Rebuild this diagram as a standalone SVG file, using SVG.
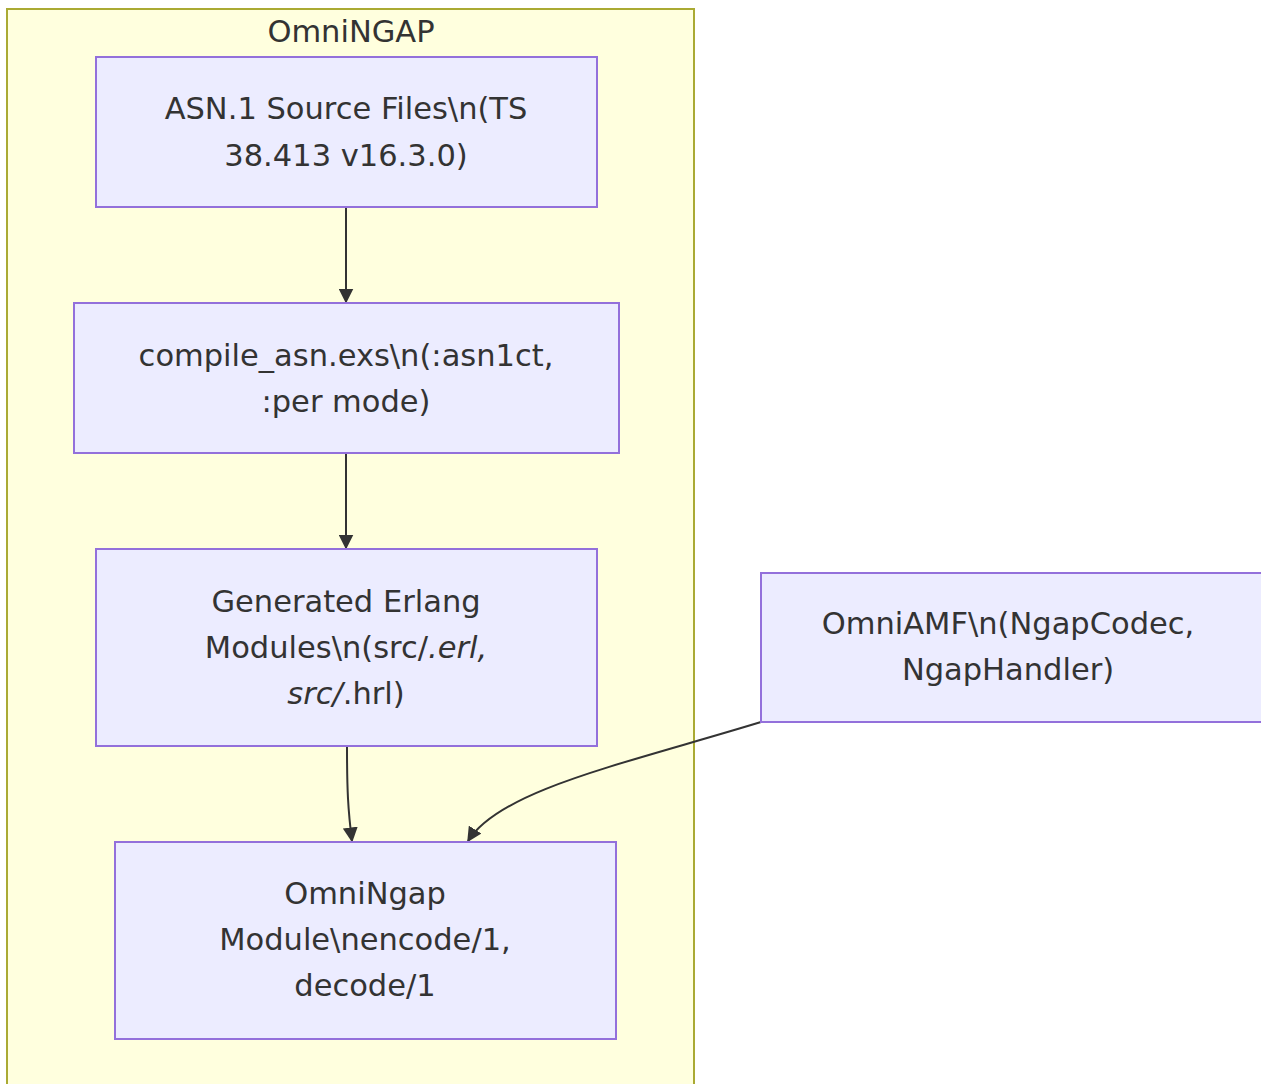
<svg xmlns="http://www.w3.org/2000/svg" width="1261" height="1084" viewBox="0 0 1261 1084">
<defs>
<style>
.cl{fill:#ffffde;stroke:#aaaa33;stroke-width:2}
.nd{fill:#ececff;stroke:#9370db;stroke-width:2}
.t{font-family:"DejaVu Sans",Verdana,sans-serif;font-size:30.5px;fill:#333;text-anchor:middle}
.e{fill:none;stroke:#333;stroke-width:2}
</style>
<marker id="ah" viewBox="0 0 10 10" refX="9" refY="5" markerWidth="15" markerHeight="15" markerUnits="userSpaceOnUse" orient="auto"><path d="M0,0L10,5L0,10z" fill="#333"/></marker>
</defs>
<rect width="1261" height="1084" fill="#fff"/>
<g id="cluster-OmniNGAP">
<rect class="cl" x="7" y="9" width="687" height="1090"/>
<text class="t" x="351" y="42">OmniNGAP</text>
</g>
<g id="edges">
<path class="e" d="M346,208V302" marker-end="url(#ah)"/>
<path class="e" d="M346,454V548" marker-end="url(#ah)"/>
<path class="e" d="M347,747C347,790 348,810 352,841" marker-end="url(#ah)"/>
<path class="e" d="M761,722C620,765 500,790 468,841" marker-end="url(#ah)"/>
</g>
<g id="node-asn">
<rect class="nd" x="96" y="57" width="501" height="150"/>
<text class="t" x="346" y="119">ASN.1 Source Files\n(TS</text>
<text class="t" x="346" y="166">38.413 v16.3.0)</text>
</g>
<g id="node-compile">
<rect class="nd" x="74" y="303" width="545" height="150"/>
<text class="t" x="346" y="366">compile_asn.exs\n(:asn1ct,</text>
<text class="t" x="346" y="412">:per mode)</text>
</g>
<g id="node-generated">
<rect class="nd" x="96" y="549" width="501" height="197"/>
<text class="t" x="346" y="612">Generated Erlang</text>
<text class="t" x="346" y="658">Modules\n(src/<tspan font-style="italic">.erl,</tspan></text>
<text class="t" x="346" y="704"><tspan font-style="italic">src/</tspan>.hrl)</text>
</g>
<g id="node-omningap">
<rect class="nd" x="115" y="842" width="501" height="197"/>
<text class="t" x="365" y="904">OmniNgap</text>
<text class="t" x="365" y="950">Module\nencode/1,</text>
<text class="t" x="365" y="996">decode/1</text>
</g>
<g id="node-omniamf">
<rect class="nd" x="761" y="573" width="520" height="149"/>
<text class="t" x="1008" y="634">OmniAMF\n(NgapCodec,</text>
<text class="t" x="1008" y="680">NgapHandler)</text>
</g>
</svg>
